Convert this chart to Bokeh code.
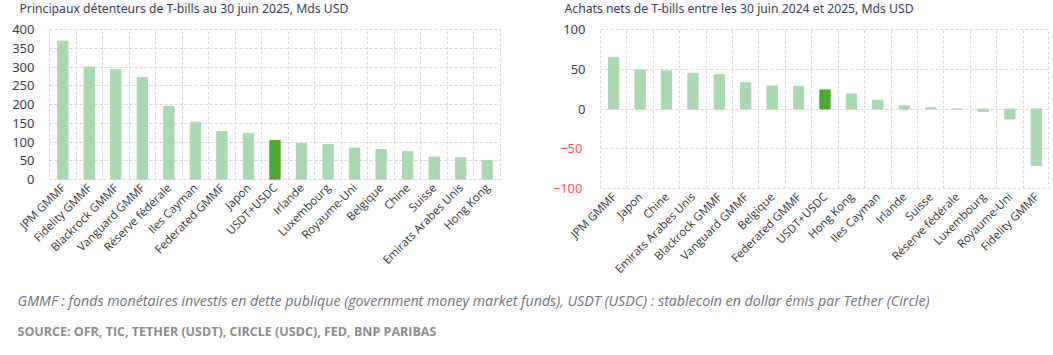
import math
from bokeh.plotting import figure
from bokeh.models import Range1d, FixedTicker, ColumnDataSource, Label, LinearAxis
from bokeh.layouts import row, column
from bokeh.embed import file_html
from bokeh.resources import INLINE

holders_cats = ["JPM GMMF", "Fidelity GMMF", "Blackrock GMMF", "Vanguard GMMF",
                "Réserve fédérale", "Iles Cayman", "Federated GMMF", "Japon", "USDT+USDC",
                "Irlande", "Luxembourg", "Royaume-Uni", "Belgique", "Chine", "Suisse",
                "Emirats Arabes Unis", "Hong Kong"]
holders_vals = [369, 300, 293, 272, 195, 153, 128, 123, 104, 96, 93, 84, 80, 75, 60, 58, 51]

net_cats = ["JPM GMMF", "Japon", "Chine", "Emirats Arabes Unis", "Blackrock GMMF",
            "Vanguard GMMF", "Belgique", "Federated GMMF", "USDT+USDC", "Hong Kong",
            "Iles Cayman", "Irlande", "Suisse", "Réserve fédérale", "Luxembourg",
            "Royaume-Uni", "Fidelity GMMF"]
net_vals = [65, 49, 48, 45, 43, 33, 29, 28.5, 24, 19, 11, 4, 1.5, 0, -3, -12.5, -71]

highlight = "USDT+USDC"
left_ticks = [0, 50, 100, 150, 200, 250, 300, 350, 400]
right_ticks = [-100, -50, 0, 50, 100]
left_title = "Principaux détenteurs de T-bills au 30 juin 2025, Mds USD"
right_title = "Achats nets de T-bills entre les 30 juin 2024 et 2025, Mds USD"
note_text = ("GMMF : fonds monétaires investis en dette publique (government money market funds), "
             "USDT (USDC) : stablecoin en dollar émis par Tether (Circle)")
source_text = "SOURCE: OFR, TIC, TETHER (USDT), CIRCLE (USDC), FED, BNP PARIBAS"

LIGHT = "#a9d9b0"
DARK = "#4fa82f"
GRID = "#d6d6d6"
TICK_COLOR = "#3a3a48"
NEG_COLOR = "#ff4f4f"
TITLE_COLOR = "#3a3a50"


def style_axis(ax):
    ax.axis_line_color = None
    ax.major_tick_line_color = None
    ax.minor_tick_line_color = None
    ax.major_tick_out = 0
    ax.major_tick_in = 0


def text_strip(width, height):
    s = figure(width=width, height=height, output_backend="svg", toolbar_location=None,
               x_range=Range1d(0, 1), y_range=Range1d(0, 1), x_axis_type=None,
               y_axis_type=None, min_border=0)
    s.outline_line_color = None
    s.xgrid.visible = False
    s.ygrid.visible = False
    return s


def make_chart(cats, vals, ticks, fw, fh, bl, br, bb, red_negatives=False):
    n = len(cats)
    idx = list(range(n))
    colors = [DARK if c == highlight else LIGHT for c in cats]
    src = ColumnDataSource(dict(x=idx, top=vals, color=colors))
    p = figure(frame_width=fw, frame_height=fh, output_backend="svg", toolbar_location=None,
               x_range=Range1d(-0.5, n - 0.5), y_range=Range1d(ticks[0], ticks[-1]),
               min_border_left=bl, min_border_right=br, min_border_bottom=bb, min_border_top=8)
    p.vbar(x="x", top="top", bottom=0, width=0.39, color="color", source=src)

    p.outline_line_color = GRID
    p.outline_line_dash = "3 2"

    p.xaxis.ticker = FixedTicker(ticks=idx)
    p.xaxis.major_label_overrides = {i: c for i, c in enumerate(cats)}
    p.xaxis.major_label_orientation = math.pi / 4
    p.xaxis.major_label_text_font = "Open Sans"
    p.xaxis.major_label_text_font_size = "11.5px"
    p.xaxis.major_label_text_color = "#333333"
    p.xaxis.major_label_standoff = 6

    shown = [t for t in ticks if t >= 0] if red_negatives else ticks
    p.yaxis.ticker = FixedTicker(ticks=shown)
    p.yaxis.major_label_text_font = "Noto Sans"
    p.yaxis.major_label_text_font_size = "13px"
    p.yaxis.major_label_text_color = TICK_COLOR
    p.yaxis.major_label_standoff = 15

    style_axis(p.xaxis[0])
    style_axis(p.yaxis[0])

    if red_negatives:
        neg = [t for t in ticks if t < 0]
        neg_axis = LinearAxis(ticker=FixedTicker(ticks=neg),
                              major_label_text_font="Noto Sans",
                              major_label_text_font_size="13px",
                              major_label_text_color=NEG_COLOR,
                              major_label_standoff=-22)
        style_axis(neg_axis)
        p.add_layout(neg_axis, "left")

    p.xgrid.ticker = FixedTicker(ticks=[i + 0.5 for i in range(n - 1)])
    p.ygrid.ticker = FixedTicker(ticks=ticks)
    for g in (p.xgrid, p.ygrid):
        g.grid_line_color = GRID
        g.grid_line_dash = "3 2"
        g.grid_line_width = 1
    return p


titles = text_strip(1047, 21)
for tx, txt in ((19, left_title), (564, right_title)):
    titles.add_layout(Label(x=tx, y=13, x_units="screen", y_units="screen", text=txt,
                            text_font="Noto Sans", text_font_size="12.2px",
                            text_color=TITLE_COLOR, text_baseline="middle"))

p1 = make_chart(holders_cats, holders_vals, left_ticks, 451, 150, 49, 49, 111)
p2 = make_chart(net_cats, net_vals, right_ticks, 449, 159, 49, 0, 102, red_negatives=True)

notes = text_strip(1047, 55)
notes.add_layout(Label(x=17, y=45, x_units="screen", y_units="screen", text=note_text,
                       text_font="Open Sans", text_font_style="italic", text_font_size="14.2px",
                       text_color="#70707c", text_baseline="middle"))
notes.add_layout(Label(x=17, y=14, x_units="screen", y_units="screen", text=source_text,
                       text_font="Open Sans", text_font_style="bold",
                       text_font_size="12.5px", text_color="#8c8c8c", text_baseline="middle"))

layout = column(titles, row(p1, p2), notes)
open("out.html", "w").write(file_html(layout, INLINE))
